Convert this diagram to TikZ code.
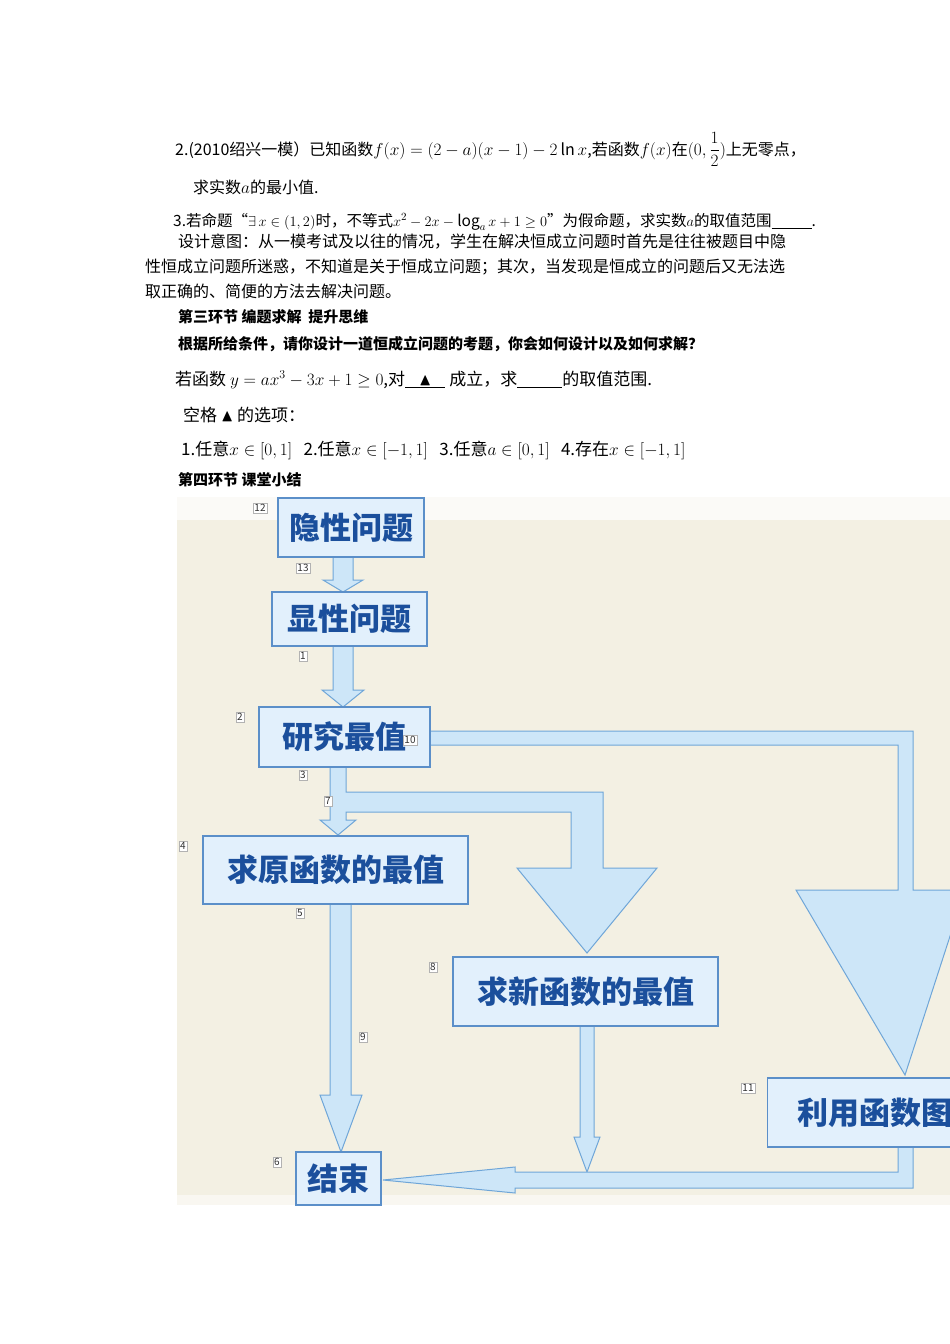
\documentclass[tikz,border=0pt]{standalone}
\usepackage{fontspec}
\setmainfont{Noto Sans CJK SC}
\usepackage{amsmath,amssymb}
\begin{document}
\begin{tikzpicture}[x=1pt,y=-1pt,
  txt/.style={anchor=base west,inner sep=0pt,font=\fontsize{16}{19}\selectfont},
  hd/.style={anchor=base west,inner sep=0pt,font=\fontsize{15}{18}\selectfont\bfseries},
  box/.style={draw=boxline,fill=boxfill,line width=1.2pt,inner sep=0pt,text=boxtext,font=\fontsize{31}{35}\selectfont\bfseries},
  num/.style={draw=gray!60,fill=white,inner sep=1.5pt,font=\fontsize{10}{11}\selectfont,text=black!80},
  arr/.style={draw=arrline,fill=arrfill,line width=1pt,line join=miter}]
\definecolor{boxline}{HTML}{5B8FC9}
\definecolor{boxfill}{HTML}{E2F0FC}
\definecolor{boxtext}{HTML}{1B4F9C}
\definecolor{arrline}{HTML}{6FA6D8}
\definecolor{arrfill}{HTML}{CDE6F8}
\definecolor{bg}{HTML}{F3F0E3}
\useasboundingbox (0,0) rectangle (950,1344);
\fill[white] (0,0) rectangle (950,1344);
% text
\node[txt] (l1) at (175,155) {2.(2010绍兴一模）已知函数$f(x)=(2-a)(x-1)-2\ln x$,若函数$f(x)$在$(0,\dfrac{1}{2})$上无零点，};
\node[txt] (l2) at (193,193) {求实数$a$的最小值.};
\node[txt,font=\fontsize{15.5}{18}\selectfont] (l3) at (173,226) {3.若命题“$\exists\, x\in(1,2)$时，不等式$x^{2}-2x-\log_a x+1\geq 0$”为假命题，求实数$a$的取值范围\underline{\hspace{40pt}}.};
\node[txt] (l4) at (178,247) {设计意图：从一模考试及以往的情况，学生在解决恒成立问题时首先是往往被题目中隐};
\node[txt] (l5) at (145,272) {性恒成立问题所迷惑，不知道是关于恒成立问题；其次，当发现是恒成立的问题后又无法选};
\node[txt] (l6) at (145,297) {取正确的、简便的方法去解决问题。};
\node[hd] (h1) at (178,322) {第三环节\ 编题求解\ \ 提升思维};
\node[hd] (h2) at (178,349) {根据所给条件，请你设计一道恒成立问题的考题，你会如何设计以及如何求解？};
\node[txt,font=\fontsize{17}{20}\selectfont] (l7) at (175,385) {若函数 $y=ax^3-3x+1\geq0$,对\underline{\hspace{14pt}$\blacktriangle$\hspace{14pt}} 成立，求\underline{\hspace{45pt}}的取值范围.};
\node[txt,font=\fontsize{17}{20}\selectfont] (l8) at (183,421) {空格 $\blacktriangle$ 的选项：};
\node[txt,font=\fontsize{17}{20}\selectfont] (l9) at (181,455) {1.任意$x\in[0,1]$\ \ \ 2.任意$x\in[-1,1]$\ \ \ 3.任意$a\in[0,1]$\ \ \ 4.存在$x\in[-1,1]$};
\node[hd] (h3) at (178,485) {第四环节 课堂小结};
% background
\fill[bg] (177,497) rectangle (950,1205);
\fill[white!70!bg] (177,497) rectangle (950,520);
\fill[white,opacity=0.5] (177,1195) rectangle (950,1205);
% arrows
\draw[arr] (333,557) -- (353,557) -- (353,580) -- (363,580) -- (343,592) -- (323,580) -- (333,580) -- cycle;
\draw[arr] (333,646) -- (353,646) -- (353,690) -- (364,690) -- (343,707) -- (322,690) -- (333,690) -- cycle;
\draw[arr] (430,731) -- (913,731) -- (913,890) -- (965,890) -- (905,1075) -- (796,890) -- (898,890) -- (898,745) -- (430,745) -- cycle;
\draw[arr] (330,767) -- (346,767) -- (346,792) -- (603,792) -- (603,868) -- (657,868) -- (587,953) -- (517,868) -- (571,868) -- (571,812) -- (346,812) -- (346,820) -- (356,820) -- (338,835) -- (320,820) -- (330,820) -- cycle;
\draw[arr] (330,904) -- (351,904) -- (351,1095) -- (362,1095) -- (341,1152) -- (320,1095) -- (330,1095) -- cycle;
\draw[arr] (580,1026) -- (594,1026) -- (594,1137) -- (600,1137) -- (587,1172) -- (574,1137) -- (580,1137) -- cycle;
\draw[arr] (898,1145) -- (913,1145) -- (913,1188) -- (515,1188) -- (515,1193) -- (383,1180) -- (515,1167) -- (515,1172) -- (898,1172) -- cycle;
% boxes
\node[box,minimum width=146pt,minimum height=59pt] (b12) at (351,527.5) {隐性问题};
\node[box,minimum width=155pt,minimum height=54pt] (b1) at (349.5,619) {显性问题};
\node[box,minimum width=171pt,minimum height=60pt] (b2) at (344.5,737) {研究最值};
\node[box,minimum width=265pt,minimum height=68pt] (b4) at (335.5,870) {求原函数的最值};
\node[box,minimum width=265pt,minimum height=69pt] (b8) at (585.5,991.5) {求新函数的最值};
\begin{scope}
\clip (0,0) rectangle (950,1344);
\node[box,minimum width=200pt,minimum height=69pt,anchor=west] (b11) at (767,1112.5) {\hspace{30pt}利用函数图象};
\end{scope}
\node[box,minimum width=85pt,minimum height=53pt] (b6) at (338.5,1178.5) {结束};
% numbers
\node[num] (n12) at (260,508) {12};
\node[num] (n13) at (303,568) {13};
\node[num] (n1) at (303,656) {1};
\node[num] (n2) at (240,717) {2};
\node[num] (n10) at (410,740) {10};
\node[num] (n3) at (303,775) {3};
\node[num] (n7) at (328,801) {7};
\node[num] (n4) at (183,846) {4};
\node[num] (n5) at (300,913) {5};
\node[num] (n9) at (363,1037) {9};
\node[num] (n8) at (433,967) {8};
\node[num] (n11) at (748,1088) {11};
\node[num] (n6) at (277,1162) {6};
\end{tikzpicture}
\end{document}
